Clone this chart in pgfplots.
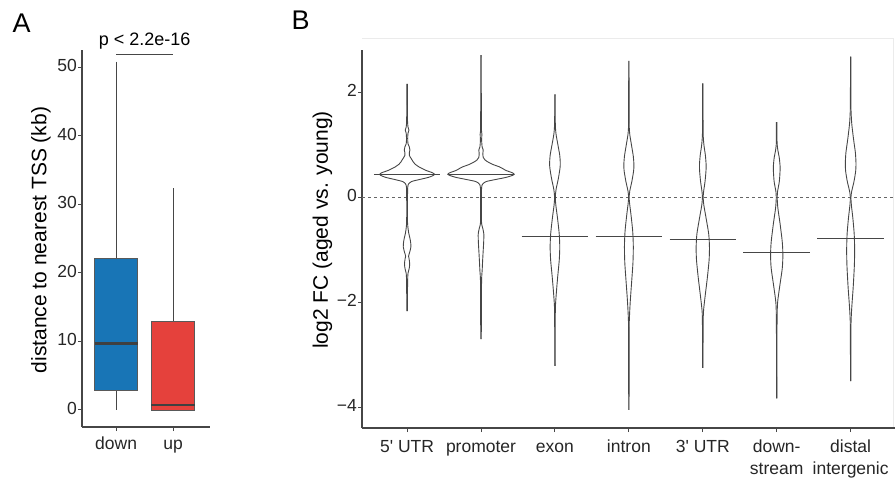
\documentclass[border=0pt]{standalone}
\usepackage{pgfplots}
\pgfplotsset{compat=1.18}
\usepgfplotslibrary{statistics}
\usepackage{pgfplotstable}
\usepackage{fontspec}
\setmainfont{Liberation Sans}

\definecolor{downblue}{RGB}{24,117,182}
\definecolor{upred}{RGB}{229,65,60}
\definecolor{axisgray}{RGB}{70,70,70}
\definecolor{violgray}{RGB}{70,70,70}

% violin half-width profiles: y = log2 FC, w = half width (category units)
\pgfplotstableread{
y w
-2.17 0.003
-1.90 0.005
-1.60 0.007
-1.45 0.012
-1.36 0.028
-1.27 0.035
-1.18 0.028
-1.12 0.020
-1.05 0.034
-0.94 0.052
-0.82 0.044
-0.68 0.022
-0.56 0.010
-0.48 0.006
-0.20 0.005
0.05 0.006
0.18 0.008
0.25 0.018
0.30 0.060
0.34 0.170
0.38 0.290
0.42 0.360
0.44 0.370
0.47 0.340
0.51 0.260
0.55 0.200
0.58 0.160
0.63 0.110
0.67 0.085
0.71 0.068
0.76 0.045
0.80 0.030
0.85 0.030
0.90 0.038
0.96 0.030
1.02 0.012
1.12 0.008
1.22 0.012
1.28 0.025
1.34 0.012
1.45 0.006
1.70 0.005
2.16 0.003
}\vUTRfive
\pgfplotstableread{
y w
-2.70 0.003
-2.30 0.005
-1.90 0.006
-1.55 0.008
-1.40 0.015
-1.20 0.022
-1.05 0.028
-0.85 0.036
-0.70 0.038
-0.60 0.025
-0.52 0.010
-0.40 0.005
0.00 0.005
0.18 0.008
0.25 0.020
0.30 0.070
0.34 0.200
0.38 0.340
0.42 0.430
0.44 0.450
0.47 0.420
0.51 0.340
0.55 0.290
0.58 0.250
0.62 0.170
0.66 0.110
0.71 0.055
0.76 0.030
0.84 0.025
0.90 0.030
0.96 0.015
1.10 0.008
1.20 0.012
1.30 0.006
1.80 0.004
2.71 0.003
}\vPromoter
\pgfplotstableread{
y w
-3.21 0.002
-2.60 0.003
-2.10 0.006
-1.80 0.020
-1.50 0.038
-1.20 0.058
-0.95 0.065
-0.70 0.058
-0.40 0.035
-0.15 0.012
0.00 0.005
0.15 0.015
0.35 0.045
0.55 0.068
0.65 0.072
0.80 0.065
1.00 0.040
1.20 0.015
1.35 0.006
1.60 0.003
1.96 0.002
}\vExon
\pgfplotstableread{
y w
-4.05 0.002
-3.30 0.003
-2.60 0.004
-2.34 0.006
-2.00 0.018
-1.60 0.038
-1.25 0.055
-0.94 0.060
-0.65 0.052
-0.35 0.030
-0.12 0.010
0.00 0.004
0.12 0.012
0.30 0.040
0.50 0.064
0.62 0.068
0.78 0.060
1.00 0.035
1.20 0.012
1.35 0.005
1.80 0.003
2.60 0.002
}\vIntron
\pgfplotstableread{
y w
-3.25 0.002
-2.60 0.004
-2.20 0.008
-1.90 0.030
-1.55 0.060
-1.20 0.085
-0.95 0.090
-0.70 0.080
-0.40 0.045
-0.15 0.014
0.00 0.005
0.12 0.012
0.30 0.030
0.50 0.043
0.62 0.045
0.80 0.035
1.00 0.015
1.20 0.005
1.60 0.003
2.17 0.002
}\vUTRthree
\pgfplotstableread{
y w
-3.83 0.002
-3.00 0.003
-2.30 0.005
-2.00 0.012
-1.70 0.040
-1.35 0.075
-1.10 0.083
-0.85 0.075
-0.50 0.045
-0.20 0.015
0.00 0.006
0.10 0.010
0.30 0.035
0.50 0.045
0.58 0.046
0.75 0.035
0.90 0.015
1.03 0.005
1.20 0.004
1.43 0.004
}\vDown
\pgfplotstableread{
y w
-3.50 0.002
-2.90 0.003
-2.40 0.005
-2.10 0.015
-1.70 0.035
-1.30 0.050
-1.00 0.054
-0.70 0.048
-0.40 0.030
-0.15 0.010
0.00 0.004
0.12 0.015
0.30 0.045
0.50 0.068
0.65 0.072
0.85 0.064
1.10 0.040
1.40 0.015
1.66 0.005
2.00 0.003
2.68 0.002
}\vDistal

\newcommand{\ticksize}{\fontsize{17.5}{22}\selectfont}
\newcommand{\labsize}{\fontsize{21}{25}\selectfont}

\pgfplotsset{
  panel/.style={
    scale only axis,
    axis x line=bottom, axis y line=left,
    axis line style={-, draw=axisgray, line width=1.1pt},
    tick style={draw=axisgray, line width=1pt},
    tick align=outside, major tick length=4pt,
    tick label style={font=\ticksize, text=black!85},
    typeset ticklabels with strut,
    yticklabel style={inner sep=1pt},
    xticklabel style={inner sep=2pt, align=center},
  },
  violin/.style={draw=violgray, line width=0.9pt, smooth, tension=0.45, no markers},
  medline/.style={draw=violgray, line width=0.9pt, no markers},
}

\newcommand{\violin}[2]{%
  \addplot[violin] table[x expr=#1+\thisrow{w}, y=y] {#2};
  \addplot[violin] table[x expr=#1-\thisrow{w}, y=y] {#2};
}

\begin{document}
\begin{tikzpicture}[x=1pt,y=1pt]
\path[use as bounding box] (0,0) rectangle (895,488);

% ---------------- panel A: distance to nearest TSS ----------------
\begin{axis}[panel,
  at={(82pt,61pt)}, anchor=south west,
  width=128pt, height=377pt,
  xmin=0.4, xmax=2.65, ymin=-2.48, ymax=52.48,
  xtick={1,2}, xticklabels={down,up},
  xticklabel style={yshift=-1pt},
  ytick={0,10,20,30,40,50}, yticklabels={0,10,20,30,40,50},
  clip=false,
  boxplot/draw direction=y,
  boxplot/every median/.style={draw=black!75, line width=2.2pt},
  boxplot/every box/.style={draw=black!65, line width=0.8pt},
  boxplot/every whisker/.style={draw=axisgray, line width=1pt},
]
\addplot[fill=downblue, boxplot prepared={
  lower whisker=0, lower quartile=2.9, median=9.7,
  upper quartile=22.1, upper whisker=50.8,
  draw position=1, box extend=0.76, whisker extend=0}]
  coordinates {};
\addplot[fill=upred, boxplot prepared={
  lower whisker=0, lower quartile=0, median=0.7,
  upper quartile=12.9, upper whisker=32.3,
  draw position=2, box extend=0.76, whisker extend=0}]
  coordinates {};
\draw[axisgray, line width=0.8pt] (axis cs:1,51.9) -- (axis cs:2,51.9);
\node[font=\fontsize{18}{22}\selectfont, anchor=base] at (axis cs:1.5,53.2) {p < 2.2e-16};
\end{axis}

\node[font=\labsize, rotate=90] at (41,248) {distance to nearest TSS (kb)};
\node[font=\fontsize{27}{30}\selectfont, anchor=base west] at (9,455) {A};

% ---------------- panel B: log2 FC by genomic feature ----------------
\draw[black!8, line width=0.8pt] (362,450) -- (893,450) -- (893,60);
\begin{axis}[panel,
  at={(362pt,60pt)}, anchor=south west,
  width=533pt, height=378pt,
  xmin=0.39, xmax=7.6, ymin=-4.394, ymax=2.806,
  xtick={1,...,7},
  xticklabels={5\textquotesingle\ UTR,promoter,exon,intron,3\textquotesingle\ UTR,down-\\stream,distal\\intergenic},
  xticklabel style={yshift=-3pt},
  ytick={-4,-2,0,2}, yticklabels={−4,−2,0,2},
]
\addplot[draw=black!60, line width=0.9pt, dash pattern=on 3pt off 3pt, no markers]
  coordinates {(0.39,0) (7.6,0)};

\violin{1}{\vUTRfive}
\violin{2}{\vPromoter}
\violin{3}{\vExon}
\violin{4}{\vIntron}
\violin{5}{\vUTRthree}
\violin{6}{\vDown}
\violin{7}{\vDistal}

% medians
\addplot[medline] coordinates {(0.55,0.44) (1.45,0.44)};
\addplot[medline] coordinates {(1.55,0.44) (2.45,0.44)};
\addplot[medline] coordinates {(2.55,-0.75) (3.45,-0.75)};
\addplot[medline] coordinates {(3.55,-0.74) (4.45,-0.74)};
\addplot[medline] coordinates {(4.55,-0.81) (5.45,-0.81)};
\addplot[medline] coordinates {(5.55,-1.05) (6.45,-1.05)};
\addplot[medline] coordinates {(6.55,-0.79) (7.45,-0.79)};
\end{axis}

\node[font=\labsize, rotate=90] at (322.5,258) {log2 FC (aged vs. young)};
\node[font=\fontsize{27}{30}\selectfont, anchor=base west] at (288,458) {B};
\end{tikzpicture}
\end{document}
